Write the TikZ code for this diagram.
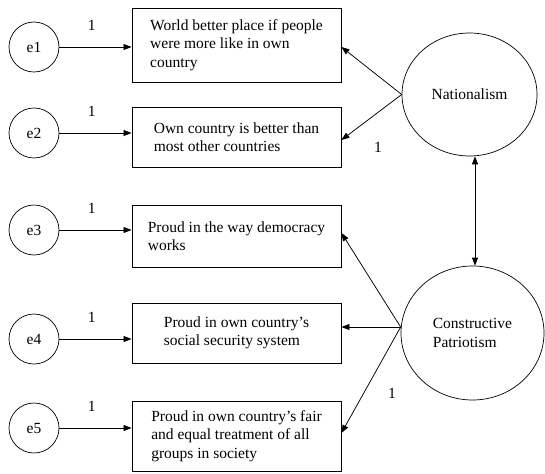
\documentclass[tikz,border=0pt]{standalone}
\usepackage{fontspec}
\setmainfont{Liberation Serif}
\usetikzlibrary{shapes.geometric,arrows.meta}
\begin{document}
\begin{tikzpicture}[x=1pt,y=-1pt,
  every node/.style={font=\fontsize{15.5}{18.5}\selectfont},
  errc/.style={draw, circle, minimum size=50pt, inner sep=0pt, line width=0.7pt},
  itembox/.style={draw, rectangle, minimum width=209pt, align=left, inner sep=0pt, line width=0.9pt},
  latent/.style={draw, ellipse, inner sep=0pt, align=left, line width=0.7pt},
  arr/.style={-{Triangle[length=8pt,width=6pt]}, line width=0.75pt},
  darr/.style={{Triangle[length=8pt,width=6pt]}-{Triangle[length=8pt,width=6pt]}, line width=0.75pt},
  lbl/.style={inner sep=0pt}
]
\useasboundingbox (0,0) rectangle (545,473);
% error terms
\node[errc] (e1) at (34,47) {e1};
\node[errc] (e2) at (34,133) {e2};
\node[errc] (e3) at (34,230) {e3};
\node[errc] (e4) at (34,339) {e4};
\node[errc] (e5) at (34,428) {e5};
% indicator boxes
\node[itembox, minimum height=74pt] (b1) at (236.5,45) {World better place if people\\were more like in own\\country};
\node[itembox, minimum height=60pt] (b2) at (236.5,137) {Own country is better than\\most other countries};
\node[itembox, minimum height=62pt] (b3) at (236.5,236) {Proud in the way democracy\\works};
\node[itembox, minimum height=60pt] (b4) at (236.5,333) {Proud in own country's\\social security system};
\node[itembox, minimum height=70pt] (b5) at (236.5,436) {Proud in own country's fair\\and equal treatment of all\\groups in society};
% latent variables
\node[latent, minimum width=135pt, minimum height=123pt] (N) at (469.5,94.5) {Nationalism};
\node[latent, minimum width=143pt, minimum height=134pt] (CP) at (472.5,333) {Constructive\\Patriotism};
% error arrows
\foreach \i in {1,...,5}{
  \draw[arr] (e\i.east) -- (e\i.east -| b\i.west) node[lbl, pos=0.45, above=16pt] {1};
}
% Nationalism loadings
\draw[arr] (N.west) -- ([yshift=-2pt]b1.east);
\draw[arr] (N.west) -- ([yshift=-3pt]b2.east);
\node[lbl] (l1) at (378,147) {1};
% Constructive patriotism loadings
\draw[arr] ([yshift=6pt]CP.west) -- ([yshift=3pt]b3.east);
\draw[arr] ([yshift=6pt]CP.west) -- ([yshift=6pt]b4.east);
\draw[arr] ([yshift=6pt]CP.west) -- ([yshift=3pt]b5.east);
\node[lbl] (l2) at (392,393) {1};
% covariance
\draw[darr] ([xshift=5.5pt]N.south) -- ([xshift=2.5pt]CP.north);
\end{tikzpicture}
\end{document}
